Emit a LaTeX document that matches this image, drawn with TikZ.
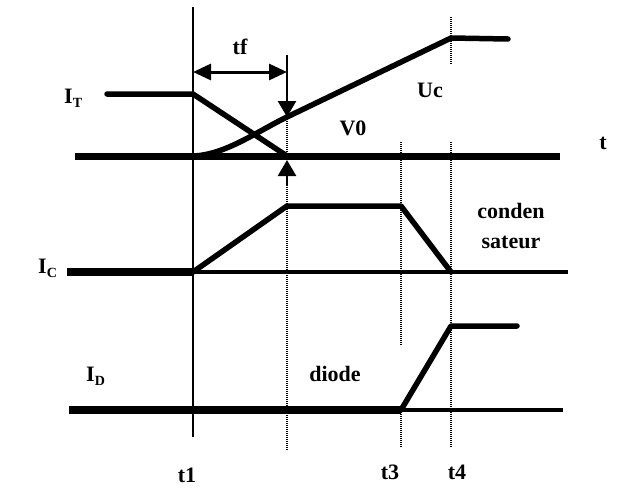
\documentclass[tikz,border=0pt]{standalone}
\usepackage{fontspec}
\setmainfont{Liberation Serif}
\usetikzlibrary{arrows.meta}
\begin{document}
\begin{tikzpicture}[x=1pt,y=-1pt,
  heavy/.style={line width=8pt},
  curve/.style={line width=5.5pt, line join=round, line cap=round},
  thinline/.style={line width=2.5pt},
  baseline thin/.style={line width=3.5pt},
  dotline/.style={line width=2pt, dash pattern=on 1pt off 1pt},
  lbl/.style={font=\bfseries\fontsize{22}{24}\selectfont, inner sep=0pt},
  tipdown/.style={line width=2.5pt, -{Triangle[length=16pt,width=18pt]}},
  tf arrow/.style={line width=3pt, {Triangle[length=18pt,width=16pt]}-{Triangle[length=18pt,width=16pt]}}
]
\useasboundingbox (0,0) rectangle (619,496);
\fill[white] (0,0) rectangle (619,496);
% time marks
\coordinate (t1top) at (193,7);
\coordinate (t1bot) at (193,437);
\coordinate (t2top) at (287,55);
\coordinate (t2a) at (287,117);
\coordinate (t2b) at (287,156);
\coordinate (t2c) at (287,185);
\coordinate (t2d) at (287,160);
\coordinate (t2bot) at (287,450);
\coordinate (t3a) at (401,142);
\coordinate (t3b) at (401,345);
\coordinate (t3c) at (401,410);
\coordinate (t3d) at (401,447);
\coordinate (t4a) at (451,17);
\coordinate (t4b) at (451,65);
\coordinate (t4c) at (451,142);
\coordinate (t4d) at (451,447);
% vertical lines
\draw[thinline] (t1top) -- (t1bot);
\draw[dotline] (t2b) -- (t2a);
\draw[dotline] (t2c) -- (t2bot);
\draw[dotline] (t3a) -- (t3b);
\draw[dotline] (t3c) -- (t3d);
\draw[dotline] (t4a) -- (t4b);
\draw[dotline] (t4c) -- (t4d);
% tf
\coordinate (tfl) at (193,72);
\coordinate (tfr) at (287,72);
\draw[tf arrow] (tfl) -- (tfr);
\draw[tipdown] (t2top) -- (t2a);
\draw[tipdown] (t2c) -- (t2d);
% top row
\coordinate (b1l) at (75,156);
\coordinate (b1r) at (560,156);
\draw[line width=7pt] (b1l) -- (b1r);
\coordinate (itl) at (107,94);
\coordinate (it1) at (193,94);
\draw[curve] (itl) -- (it1) -- (t2b);
\coordinate (uc0) at (193,156);
\coordinate (uc4) at (451,38);
\coordinate (ucend) at (508,39);
\draw[curve] (uc0) .. controls (225,155) and (257,131.5) .. (t2a) -- (uc4) -- (ucend);
% IC row
\coordinate (b2l) at (67,272);
\coordinate (b2m) at (193,272);
\coordinate (b2r) at (568,272);
\draw[heavy] (b2l) -- (b2m);
\draw[baseline thin] (b2m) -- (b2r);
\coordinate (ic2) at (287,206);
\coordinate (ic3) at (401,206);
\coordinate (ic4) at (451,272);
\draw[curve] (b2m) -- (ic2) -- (ic3) -- (ic4);
% ID row
\coordinate (b3l) at (69,410);
\coordinate (b3m) at (401,410);
\coordinate (b3r) at (563,410);
\draw[heavy] (b3l) -- (b3m);
\draw[baseline thin] (b3m) -- (b3r);
\coordinate (id4) at (451,326);
\coordinate (idend) at (517,326);
\draw[curve] (b3m) -- (id4) -- (idend);
% labels
\node[lbl, anchor=west] (lit) at (64,98) {I\raisebox{-4pt}{\fontsize{14}{14}\selectfont T}};
\node[lbl, anchor=west] (lic) at (38,268) {I\raisebox{-4pt}{\fontsize{14}{14}\selectfont C}};
\node[lbl, anchor=west] (lid) at (86,376) {I\raisebox{-4pt}{\fontsize{14}{14}\selectfont D}};
\node[lbl] (ltf) at (240,47) {tf};
\node[lbl] (lv0) at (353,128) {V0};
\node[lbl] (luc) at (430,90) {Uc};
\node[lbl] (lt) at (603,143) {t};
\node[lbl] (lcond) at (511,211) {conden};
\node[lbl] (lsat) at (511,242) {sateur};
\node[lbl] (ldiode) at (335,374) {diode};
\node[lbl] (lt1) at (187,475) {t1};
\node[lbl] (lt3) at (390,472) {t3};
\node[lbl] (lt4) at (457,472) {t4};
\end{tikzpicture}
\end{document}
